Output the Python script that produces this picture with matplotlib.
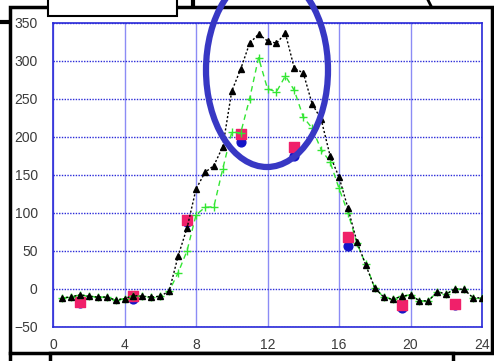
import matplotlib
matplotlib.use("Agg")
import matplotlib.pyplot as plt
from matplotlib.patches import Ellipse, Rectangle
from matplotlib.lines import Line2D

# samples every half hour
hours = [0.5 * i for i in range(1, 49)]
black_vals = [-12, -11, -8, -10, -11, -11, -15, -13, -9, -10, -11, -10,
              -3, 43, 80, 131, 153, 162, 187, 260, 289, 323, 335, 326,
              323, 336, 290, 284, 243, 223, 175, 147, 106, 62, 31, 1,
              -11, -14, -10, -8, -16, -16, -4, -7, 0, -1, -12, -12]
green_vals = [-12, -11, -8, -10, -11, -11, -15, -13, -9, -10, -11, -10,
              -3, 21, 50, 97, 107, 108, 158, 206, 205, 250, 304, 263,
              259, 280, 261, 226, 211, 183, 167, 132, 100, 60, 32, 1,
              -11, -14, -10, -8, -16, -16, -4, -7, 0, -1, -12, -12]

obs_hours = [1.5, 4.5, 7.5, 10.5, 13.5, 16.5, 19.5, 22.5]
pink_vals = [-17, -9, 90, 203, 187, 68, -21, -20]
blue_vals = [-19, -13, 88, 193, 175, 56, -25, -22]

x_ticks = [0, 4, 8, 12, 16, 20, 24]
y_ticks = [-50, 0, 50, 100, 150, 200, 250, 300, 350]

W, H = 494, 361


def fx(px):
    return px / W


def fy(py):
    return 1 - py / H


fig = plt.figure(figsize=(W / 100, H / 100), dpi=100)
fig.patch.set_facecolor("white")

ax = fig.add_axes([fx(53), fy(326.7), (482 - 53) / W, (326.7 - 22.7) / H])

ax.scatter(obs_hours, blue_vals, s=40, marker="o", color="#1414c8", zorder=3)
ax.scatter(obs_hours, pink_vals, s=55, marker="s", color="#f0206a", zorder=4)
ax.plot(hours, green_vals, color="#33e633", ls=(0, (4, 3)), lw=1,
        marker="+", ms=6, mew=1, zorder=5)
ax.plot(hours, black_vals, color="black", ls=(0, (1.5, 1.5)), lw=1,
        marker="^", ms=4.2, zorder=6)

ax.set_xlim(0, 24)
ax.set_ylim(-50, 350)
ax.set_xticks(x_ticks)
ax.set_yticks(y_ticks)
ax.tick_params(length=0, labelsize=10, labelcolor="#3a3a3a")
ax.tick_params(axis="y", pad=11)
ax.tick_params(axis="x", pad=8)
for lab in ax.get_xticklabels() + ax.get_yticklabels():
    lab.set_fontfamily("Liberation Sans")

ax.xaxis.grid(True, color="#8c8cf5", ls="-", lw=1)
ax.yaxis.grid(True, color="#2a2ad8", ls=(0, (1, 1)), lw=1)
ax.set_axisbelow(True)
for sp in ax.spines.values():
    sp.set_color("#2a2ad8")
    sp.set_linewidth(1.2)

# blue highlight ellipse
ell = Ellipse((fx(267), fy(70)), 122 / W, 194 / H, transform=fig.transFigure,
              fill=False, edgecolor="#3838c4", lw=4.5, zorder=10)
fig.add_artist(ell)

# frame around the screenshot
frame = Rectangle((fx(9.5), fy(353)), (491.5 - 9.5) / W, (353 - 6.5) / H,
                  transform=fig.transFigure, fill=False, edgecolor="black", lw=2.5)
fig.add_artist(frame)
fig.add_artist(Rectangle((fx(48), fy(16)), 129 / W, 20 / H, transform=fig.transFigure,
                         facecolor="white", edgecolor="black", lw=1.5))
fig.add_artist(Rectangle((fx(50), fy(368)), 403 / W, 15 / H, transform=fig.transFigure,
                         facecolor="white", edgecolor="black", lw=2.5))
fig.add_artist(Line2D([fx(9.5), fx(9.5)], [fy(353), fy(361)], color="black", lw=2.5))
fig.add_artist(Line2D([fx(0), fx(8)], [fy(22), fy(22)], color="black", lw=3))
fig.add_artist(Line2D([fx(193), fx(193)], [fy(0), fy(6)], color="black", lw=3))
fig.add_artist(Line2D([fx(428), fx(431)], [fy(0), fy(6)], color="black", lw=2))

fig.savefig("out.png", dpi=100)
